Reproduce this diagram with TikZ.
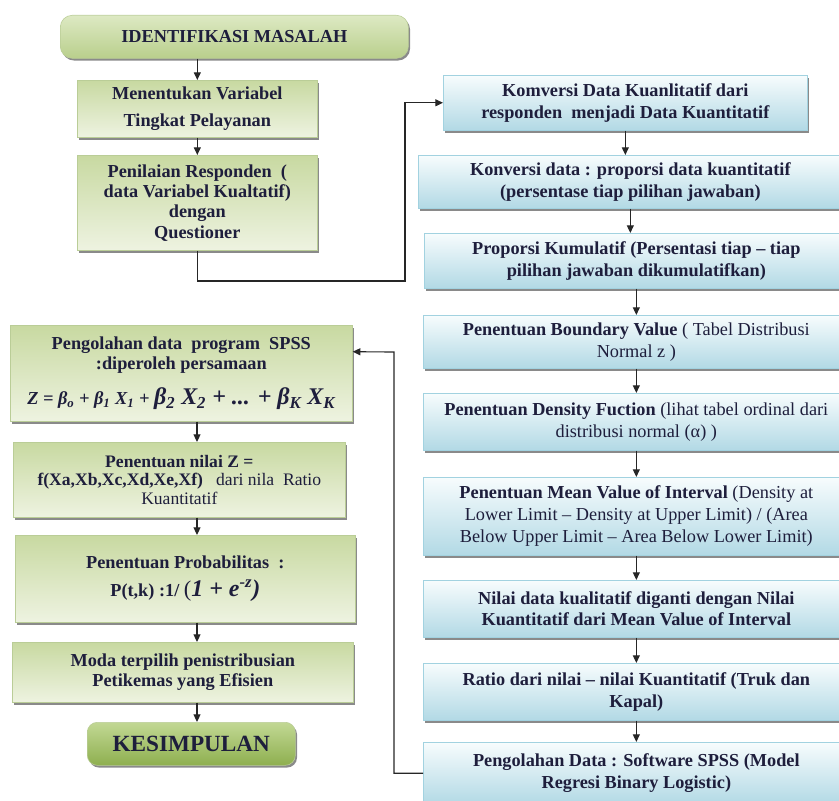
\documentclass[tikz,border=0pt]{standalone}
\usepackage{fontspec}
\setmainfont{Liberation Serif}
\usepackage{xcolor}
\usetikzlibrary{arrows.meta,shadows,positioning}

\definecolor{ink}{HTML}{1E1E3C}
\definecolor{grnline}{HTML}{BACD97}
\definecolor{grntop}{HTML}{C8D9A1}
\definecolor{grnbot}{HTML}{EEF3E1}
\definecolor{blueline}{HTML}{A2D2E0}
\definecolor{bluetop}{HTML}{F7FCFD}
\definecolor{bluebot}{HTML}{B2D9E5}
\definecolor{endtop}{HTML}{DDE9C3}
\definecolor{endbot}{HTML}{B9CF8C}
\definecolor{kestop}{HTML}{C2D894}
\definecolor{kesbot}{HTML}{8EAF4F}

\begin{document}
\begin{tikzpicture}[
    x=0.025cm, y=-0.025cm,
    greenbox/.style={rectangle,anchor=north west,draw=grnline,top color=grntop,bottom color=grnbot,inner sep=2pt,align=center,text=ink,font=\fontsize{13}{14.5}\selectfont\bfseries,drop shadow={shadow xshift=1.2pt,shadow yshift=-1.6pt,fill=black!65,opacity=0.7}},
    bluebox/.style={rectangle,anchor=north west,draw=blueline,top color=bluetop,bottom color=bluebot,inner sep=2pt,align=center,text=ink,font=\fontsize{13}{15.5}\selectfont\bfseries,drop shadow={shadow xshift=1.2pt,shadow yshift=-1.6pt,fill=black!65,opacity=0.7}},
    endbox/.style={rectangle,anchor=north west,rounded corners=0.3cm,draw=grnline,inner sep=2pt,align=center,text=ink,drop shadow={shadow xshift=1.2pt,shadow yshift=-1.6pt,fill=black!65,opacity=0.7}},
    arrow/.style={-{Triangle[length=5.5pt,width=5pt]},line width=0.8pt,black!85},
]
\useasboundingbox (0,0) rectangle (839,800);

% left column
\node[endbox,top color=endtop,bottom color=endbot,minimum width=8.7cm,minimum height=1.075cm,font=\fontsize{13}{15}\selectfont\bfseries] (ident) at (60,15) {IDENTIFIKASI MASALAH};
\node[greenbox,minimum width=6cm,minimum height=1.425cm] (menentukan) at (77,80) {Menentukan Variabel\\[5pt]Tingkat Pelayanan};
\node[greenbox,minimum width=6cm,minimum height=2.375cm] (penilaian) at (77,155) {Penilaian Responden\ \ (\\data Variabel Kualtatif)\\dengan\\Questioner};

\node[greenbox,minimum width=8.55cm,minimum height=2.4cm] (pengolahan) at (10,325) {Pengolahan data\ \ program\ \ SPSS\\:diperoleh persamaan\\[9pt]{\itshape Z = β\textsubscript{o} + β\textsubscript{1} X\textsubscript{1} + {\fontsize{17}{18}\selectfont β\textsubscript{2} X\textsubscript{2} + ... + β\textsubscript{K} X\textsubscript{K}}}};
\node[greenbox,minimum width=8.3cm,minimum height=1.875cm,font=\fontsize{12.5}{13}\selectfont\bfseries] (nilaiz) at (13,442) {Penentuan nilai Z =\\f(Xa,Xb,Xc,Xd,Xe,Xf)\ \ \ {\mdseries dari nila\ \ Ratio}\\{\mdseries Kuantitatif}};
\node[greenbox,minimum width=8.5cm,minimum height=2.175cm] (prob) at (15,535) {Penentuan Probabilitas\ \ :\\[5pt]P(t,k) :1/ {\mdseries\fontsize{16}{17}\selectfont (}{\fontsize{17}{17}\selectfont\itshape 1 + e\textsuperscript{-z})}};
\node[greenbox,minimum width=8.525cm,minimum height=1.5cm] (moda) at (12,642) {Moda terpilih penistribusian\\Petikemas yang Efisien};
\node[endbox,top color=kestop,bottom color=kesbot,rounded corners=0.25cm,minimum width=5.2cm,minimum height=1.075cm,font=\fontsize{16.5}{18}\selectfont\bfseries] (kesimpulan) at (87,722) {KESIMPULAN};

% right column
\node[bluebox,minimum width=9.1cm,minimum height=1.375cm] (komversi) at (443,75) {Komversi Data Kuanlitatif dari\\responden\ \ menjadi Data Kuantitatif};
\node[bluebox,minimum width=10.6cm,minimum height=1.325cm] (konversi) at (418,155) {Konversi data : proporsi data kuantitatif\\(persentase tiap pilihan jawaban)};
\node[bluebox,minimum width=10.6cm,minimum height=1.375cm] (proporsi) at (424,233) {Proporsi Kumulatif (Persentasi tiap -- tiap\\pilihan jawaban dikumulatifkan)};
\node[bluebox,minimum width=10.65cm,minimum height=1.325cm] (boundary) at (423,315) {Penentuan Boundary Value {\mdseries ( Tabel Distribusi}\\{\mdseries Normal z )}};
\node[bluebox,minimum width=10.65cm,minimum height=1.425cm] (density) at (423,393) {Penentuan Density Fuction {\mdseries (lihat tabel ordinal dari}\\{\mdseries distribusi normal (α) )}};
\node[bluebox,minimum width=10.65cm,minimum height=1.95cm] (mean) at (423,477) {Penentuan Mean Value of Interval {\mdseries (Density at}\\{\mdseries Lower Limit -- Density at Upper Limit) / (Area}\\{\mdseries Below Upper Limit -- Area Below Lower Limit)}};
\node[bluebox,minimum width=10.65cm,minimum height=1.425cm] (nilaidata) at (423,580) {Nilai data kualitatif diganti dengan Nilai\\Kuantitatif dari Mean Value of Interval};
\node[bluebox,minimum width=10.65cm,minimum height=1.425cm] (ratio) at (423,663) {Ratio dari nilai -- nilai Kuantitatif (Truk dan\\Kapal)};
\node[bluebox,minimum width=10.65cm,minimum height=1.55cm] (spss) at (423,742) {Pengolahan Data : Software SPSS (Model\\Regresi Binary Logistic)};

\coordinate (spine) at (197,0);
\coordinate (bend1) at (405,281);
\coordinate (fbturn) at (394,352);

\draw[arrow] (ident.south -| menentukan.north) -- (menentukan.north);
\draw[arrow] (menentukan) -- (penilaian);
\draw[arrow] (penilaian.south) |- (bend1) |- (komversi.west);
\draw[arrow] (komversi.south) -- (komversi.south |- konversi.north);
\draw[arrow] (konversi.south) -- (konversi.south |- proporsi.north);
\draw[arrow] (proporsi.south) -- (proporsi.south |- boundary.north);
\draw[arrow] (boundary) -- (density);
\draw[arrow] (density) -- (mean);
\draw[arrow] (mean) -- (nilaidata);
\draw[arrow] (nilaidata) -- (ratio);
\draw[arrow] (ratio) -- (spss);
\draw[arrow] (spss.west) -| (fbturn) -- ([yshift=-19pt]pengolahan.north east);
\draw[arrow] (pengolahan.south -| spine) -- (nilaiz.north -| spine);
\draw[arrow] (nilaiz.south -| spine) -- (prob.north -| spine);
\draw[arrow] (prob.south -| spine) -- (moda.north -| spine);
\draw[arrow] (moda.south -| spine) -- (kesimpulan.north -| spine);
\end{tikzpicture}
\end{document}
